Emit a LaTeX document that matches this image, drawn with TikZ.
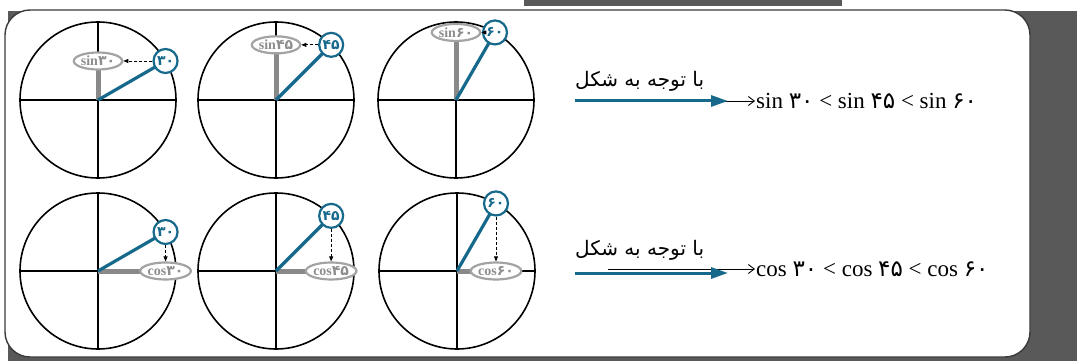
\documentclass[tikz,border=0pt]{standalone}
\usepackage{fontspec}
\setmainfont{Liberation Serif}
\newfontfamily\arabicfont[Script=Arabic]{DejaVu Sans}
\newfontfamily\fadigit{DejaVu Sans}
\TeXXeTstate=1
\usetikzlibrary{arrows.meta, shapes.geometric, calc}
\definecolor{tblue}{HTML}{17698C}
\definecolor{barcol}{HTML}{898989}
\definecolor{tagline}{HTML}{A3A3A3}
\definecolor{tagtext}{HTML}{8E8E8E}
\definecolor{panel}{HTML}{595959}
\definecolor{frame}{HTML}{3A3A3A}

\begin{document}
\begin{tikzpicture}[
    x=1pt, y=-1pt,
    unitcircle/.style={black, line width=1.6pt},
    axisline/.style={black, line width=1.3pt},
    anglebar/.style={tblue, line width=3.2pt},
    projbar/.style={barcol, line width=5pt},
    anglebadge/.style={circle, draw=tblue, line width=2.2pt, fill=white,
      minimum size=24pt, inner sep=0pt, text=tblue,
      font=\fadigit\bfseries\fontsize{14}{14}\selectfont},
    valuetag/.style={ellipse, draw=tagline, line width=2.2pt, fill=white,
      minimum width=43pt, minimum height=17pt, inner sep=0pt, text=tagtext,
      font=\bfseries\fontsize{14}{14}\selectfont},
    projarrow/.style={-{Triangle[length=5pt, width=4pt]}, densely dashed,
      line width=0.7pt},
  ]

  \useasboundingbox (0,0) rectangle (1077,361);

  % ══════════════════════════════════════════════════════
  % Background panel and frame
  % ══════════════════════════════════════════════════════
  \fill[panel] (8,11) rectangle (1077,361);
  \filldraw[fill=white, draw=frame, line width=1.4pt, rounded corners=25pt]
    (5,10) rectangle (1030,357);
  \fill[panel] (524,0) rectangle (842,6);

  \pgfmathsetmacro{\rad}{78}

  % ══════════════════════════════════════════════════════
  % Top row: sine as vertical projection
  % ══════════════════════════════════════════════════════
  \foreach \ang/\cx/\lbl [count=\i] in {30/98/۳۰, 45/276/۴۵, 60/456/۶۰}{
    \coordinate (sc\i) at (\cx,100);
    \coordinate (bp\i) at ($(sc\i)+({\rad*cos(\ang)},{-\rad*sin(\ang)})$);
    \coordinate (tp\i) at ($(sc\i)+(0,{-\rad*sin(\ang)})$);
    \draw[unitcircle] (sc\i) circle (\rad pt);
    \draw[axisline] ($(sc\i)+(-\rad,0)$) -- ($(sc\i)+(\rad,0)$);
    \draw[axisline] ($(sc\i)+(0,-\rad)$) -- ($(sc\i)+(0,\rad)$);
    \draw[projbar] (sc\i) -- (tp\i);
    \draw[anglebar] (sc\i) -- (bp\i);
    \node[valuetag] (st\i) at (tp\i) {sin{\fadigit\lbl}};
    \node[anglebadge] (sb\i) at (bp\i) {\lbl};
    \draw[projarrow] (sb\i.west) -- (st\i.east);
  }

  % ══════════════════════════════════════════════════════
  % Bottom row: cosine as horizontal projection
  % ══════════════════════════════════════════════════════
  \foreach \ang/\cx/\lbl [count=\i] in {30/98/۳۰, 45/276/۴۵, 60/457/۶۰}{
    \coordinate (cc\i) at (\cx,271);
    \coordinate (cbp\i) at ($(cc\i)+({\rad*cos(\ang)},{-\rad*sin(\ang)})$);
    \coordinate (ctp\i) at ($(cc\i)+({\rad*cos(\ang)},0)$);
    \draw[unitcircle] (cc\i) circle (\rad pt);
    \draw[axisline] ($(cc\i)+(-\rad,0)$) -- ($(cc\i)+(\rad,0)$);
    \draw[axisline] ($(cc\i)+(0,-\rad)$) -- ($(cc\i)+(0,\rad)$);
    \draw[projbar] (cc\i) -- (ctp\i);
    \draw[anglebar] (cc\i) -- (cbp\i);
    \node[valuetag] (ct\i) at (ctp\i) {cos{\fadigit\lbl}};
    \node[anglebadge] (cb\i) at (cbp\i) {\lbl};
    \draw[projarrow] (cb\i.south) -- (ct\i.north);
  }

  % ══════════════════════════════════════════════════════
  % Conclusions
  % ══════════════════════════════════════════════════════
  \node[anchor=south west, inner sep=0pt,
        font=\arabicfont\fontsize{20}{20}\selectfont]
    (note1) at (575,92) {\beginR با توجه به شکل\endR};
  \node[anchor=west, inner sep=1pt, font=\fontsize{23}{23}\selectfont]
    (rel1) at (755,101)
    {sin {\fadigit ۳۰} < sin {\fadigit ۴۵} < sin {\fadigit ۶۰}};
  \coordinate (ks1) at (608,101);
  \coordinate (bs1) at (575,101);
  \coordinate (be1) at (728,101);
  \draw[line width=0.9pt, -{Straight Barb[length=6pt, width=9pt]}]
    (ks1) -- (rel1.west);
  \draw[tblue, line width=3pt, -{Triangle[length=17pt, width=11pt]}]
    (bs1) -- (be1);

  \node[anchor=south west, inner sep=0pt,
        font=\arabicfont\fontsize{20}{20}\selectfont]
    (note2) at (575,261) {\beginR با توجه به شکل\endR};
  \node[anchor=west, inner sep=1pt, font=\fontsize{23}{23}\selectfont]
    (rel2) at (755,269)
    {cos {\fadigit ۳۰} < cos {\fadigit ۴۵} < cos {\fadigit ۶۰}};
  \coordinate (ks2) at (608,269);
  \coordinate (bs2) at (575,273);
  \coordinate (be2) at (728,273);
  \draw[line width=0.9pt, -{Straight Barb[length=6pt, width=9pt]}]
    (ks2) -- (rel2.west);
  \draw[tblue, line width=3pt, -{Triangle[length=17pt, width=11pt]}]
    (bs2) -- (be2);

\end{tikzpicture}
\end{document}
